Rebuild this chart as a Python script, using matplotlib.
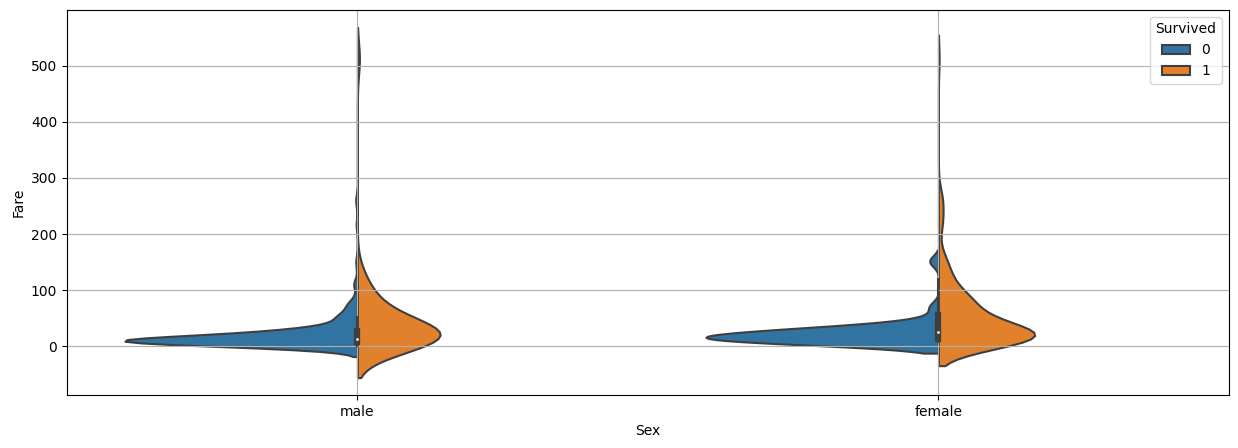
import numpy as np
import matplotlib.pyplot as plt
from matplotlib.patches import Patch

# Titanic fares, condensed to (fare, count) per Sex / Survived group
sexes = ["male", "female"]
survived_levels = [0, 1]

male_died_fare = [0, 6.5, 7.05, 7.23, 7.25, 7.75, 7.85, 7.9, 8.05, 8.66, 9.5, 10.5, 11.5, 13,
                  14.45, 15.5, 16.1, 20.5, 21, 24.15, 26, 26.55, 27.72, 29.125, 30, 31.275, 34.375,
                  39.69, 46.9, 50, 52, 56.5, 61.2, 69.55, 73.5, 79.2, 90, 108.9, 110.9, 113.3,
                  135.6, 151.55, 153.5, 211.5, 221.8, 247.5, 263]
male_died_count = [14, 12, 8, 16, 13, 34, 14, 48, 50, 11, 10, 18, 4, 45,
                   8, 8, 8, 6, 10, 8, 27, 8, 5, 6, 8, 5, 3,
                   6, 6, 6, 8, 4, 3, 5, 5, 3, 2, 2, 2, 1,
                   1, 1, 1, 1, 1, 1, 2]

male_surv_fare = [0, 7.75, 7.85, 7.9, 8.05, 9.5, 10.5, 13, 15.5, 16.1, 18.75, 23, 26, 26.29,
                  26.55, 29.7, 30.5, 31.4, 35.5, 39, 52, 52.55, 56.5, 57, 61.98, 76.73, 79.2,
                  81.86, 86.5, 91.08, 106.4, 110.9, 113.3, 133.65, 512.33]
male_surv_count = [1, 5, 4, 7, 6, 3, 5, 11, 2, 2, 3, 2, 6, 3,
                   6, 2, 4, 2, 3, 3, 3, 2, 4, 1, 2, 2, 2,
                   1, 1, 3, 1, 2, 1, 2, 2]

female_died_fare = [7.75, 7.85, 7.9, 8.05, 9.5, 10.5, 12.5, 13, 14.45, 15.25, 17.8, 18, 20.25,
                    21, 25.47, 26, 27.9, 29.125, 31.275, 34.375, 39.69, 46.9, 69.55, 151.55]
female_died_count = [8, 3, 4, 4, 2, 3, 2, 3, 6, 3, 3, 3, 2,
                     4, 4, 3, 6, 3, 4, 3, 2, 2, 2, 2]

female_surv_fare = [7.75, 7.85, 7.925, 8.05, 8.5, 9.5, 10.5, 11.13, 12.47, 13, 14.45, 15.25,
                    16.7, 19.5, 21, 23, 26, 26.25, 27.75, 29, 30, 31.4, 33, 36.75, 39, 41.58,
                    49.5, 51.86, 52.55, 53.1, 55, 57, 57.98, 65, 69.3, 71.28, 76.73, 77.96,
                    79.65, 80, 82.17, 83.16, 86.5, 89.1, 91.08, 93.5, 106.4, 108.9, 113.3, 120,
                    133.65, 135.63, 146.5, 151.55, 153.46, 164.87, 211.3, 227.5, 247.5, 262.4,
                    263, 512.33]
female_surv_count = [16, 6, 6, 4, 3, 3, 6, 3, 4, 15, 3, 3,
                     4, 3, 6, 8, 13, 4, 4, 4, 6, 3, 4, 3, 5, 3,
                     3, 3, 3, 4, 3, 3, 2, 3, 3, 2, 3, 3,
                     3, 3, 2, 3, 3, 3, 2, 3, 2, 3, 3, 3,
                     2, 3, 2, 2, 1, 2, 2, 3, 1, 1,
                     3, 1]

groups = {
    ("male", 0): np.repeat(male_died_fare, male_died_count),
    ("male", 1): np.repeat(male_surv_fare, male_surv_count),
    ("female", 0): np.repeat(female_died_fare, female_died_count),
    ("female", 1): np.repeat(female_surv_fare, female_surv_count),
}

colors = ["#3274a1", "#e1812c"]
gray = "#3f3f3f"
lw = 1.5
half_width = 0.4


def kde(data, cut=2, gridsize=100):
    bw = len(data) ** (-1 / 5) * np.std(data, ddof=1)
    support = np.linspace(data.min() - cut * bw, data.max() + cut * bw, gridsize)
    dens = np.exp(-0.5 * ((support[:, None] - data[None, :]) / bw) ** 2).sum(axis=1)
    dens /= len(data) * bw * np.sqrt(2 * np.pi)
    return support, dens


fig, ax = plt.subplots(figsize=(12.38, 4.48), dpi=100)
fig.subplots_adjust(left=0.054, right=0.9927, top=0.978, bottom=0.118)

for i, sex in enumerate(sexes):
    kdes = [kde(groups[(sex, s)]) for s in survived_levels]
    peak = max(d.max() for _, d in kdes)
    for j, (support, dens) in enumerate(kdes):
        w = dens / peak * half_width
        edge = i - w if j == 0 else i + w
        ax.fill_betweenx(support, i, edge, facecolor=colors[j], edgecolor=gray, lw=lw)

    # inner box on the combined data
    data = np.concatenate([groups[(sex, s)] for s in survived_levels])
    q25, q50, q75 = np.percentile(data, [25, 50, 75])
    wl = 1.5 * (q75 - q25)
    h1 = data[data >= q25 - wl].min()
    h2 = data[data <= q75 + wl].max()
    ax.plot([i, i], [h1, h2], lw=lw, color=gray)
    ax.plot([i, i], [q25, q75], lw=lw * 3, color=gray)
    ax.scatter(i, q50, zorder=3, color="white", edgecolor=gray, s=(lw * 2) ** 2)

ax.set_xlim(-0.5, 1.5)
ax.set_xticks(range(len(sexes)))
ax.set_xticklabels(sexes)
ax.set_xlabel("Sex")
ax.set_ylabel("Fare")
ax.grid()

handles = [Patch(facecolor=c, edgecolor=gray, lw=lw, label=str(s))
           for c, s in zip(colors, survived_levels)]
ax.legend(handles=handles, title="Survived", loc="best")

fig.savefig("out.png")
